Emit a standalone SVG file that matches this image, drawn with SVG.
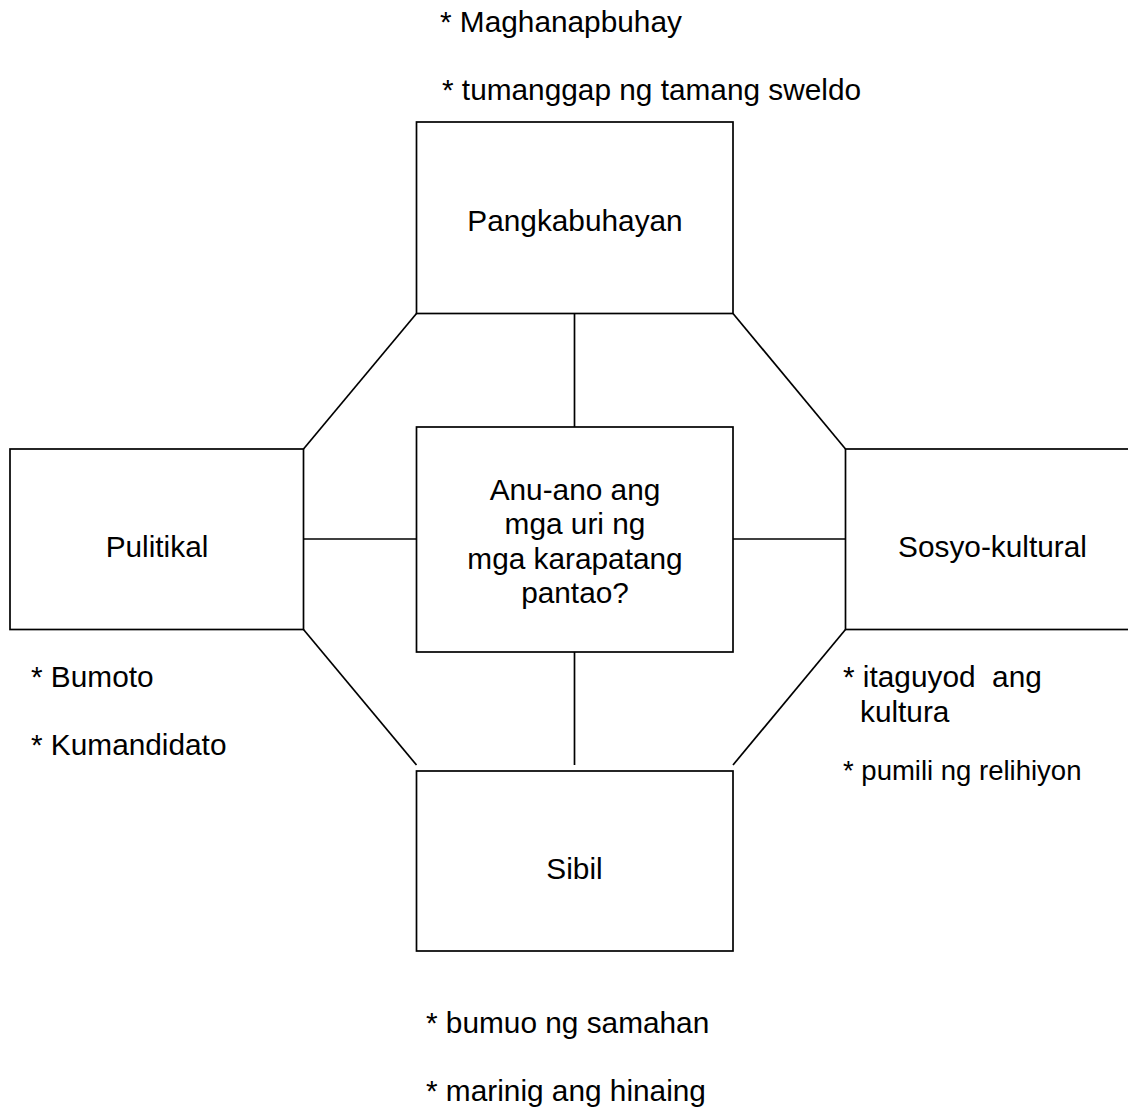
<svg xmlns="http://www.w3.org/2000/svg" width="1128" height="1109" viewBox="0 0 1128 1109">
<style>
.box{fill:#fff;stroke:#000;stroke-width:1.7}
.con{stroke:#000;stroke-width:1.7;fill:none}
text{font-family:"Liberation Sans",Arial,sans-serif;font-size:29.8px;fill:#000;white-space:pre}
.c{text-anchor:middle}
.s{font-size:27.5px}
</style>
<rect width="1128" height="1109" fill="#fff"/>
<g id="connectors">
<line class="con" x1="574.5" y1="313.5" x2="574.5" y2="427"/>
<line class="con" x1="574.5" y1="652" x2="574.5" y2="765"/>
<line class="con" x1="303.5" y1="539" x2="416.5" y2="539"/>
<line class="con" x1="733" y1="539" x2="845.5" y2="539"/>
<line class="con" x1="416.5" y1="313.5" x2="303.5" y2="449"/>
<line class="con" x1="733" y1="313.5" x2="845.5" y2="449"/>
<line class="con" x1="303.5" y1="629.5" x2="416.5" y2="765"/>
<line class="con" x1="845.5" y1="629.5" x2="733" y2="765"/>
</g>
<g id="node-pangkabuhayan">
<rect class="box" x="416.5" y="122" width="316.5" height="191.5"/>
<text class="c" x="575" y="231">Pangkabuhayan</text>
</g>
<g id="node-center">
<rect class="box" x="416.5" y="427" width="316.5" height="225"/>
<text class="c" x="575" y="499.5">Anu-ano ang</text>
<text class="c" x="575" y="534">mga uri ng</text>
<text class="c" x="575" y="568.5">mga karapatang</text>
<text class="c" x="575" y="603">pantao?</text>
</g>
<g id="node-pulitikal">
<rect class="box" x="10" y="449" width="293.5" height="180.5"/>
<text class="c" x="157" y="557">Pulitikal</text>
</g>
<g id="node-sosyo">
<rect class="box" x="845.5" y="449" width="300" height="180.5"/>
<text class="c" x="992.5" y="557">Sosyo-kultural</text>
</g>
<g id="node-sibil">
<rect class="box" x="416.5" y="771" width="316.5" height="180"/>
<text class="c" x="574.5" y="878.5">Sibil</text>
</g>
<g id="notes">
<text x="440" y="32">* Maghanapbuhay</text>
<text x="442" y="100">* tumanggap ng tamang sweldo</text>
<text x="31" y="687">* Bumoto</text>
<text x="31" y="755">* Kumandidato</text>
<text x="843" y="687">* itaguyod  ang</text>
<text x="860" y="722">kultura</text>
<text class="s" x="843" y="780">* pumili ng relihiyon</text>
<text x="426" y="1033">* bumuo ng samahan</text>
<text x="426" y="1101">* marinig ang hinaing</text>
</g>
</svg>
